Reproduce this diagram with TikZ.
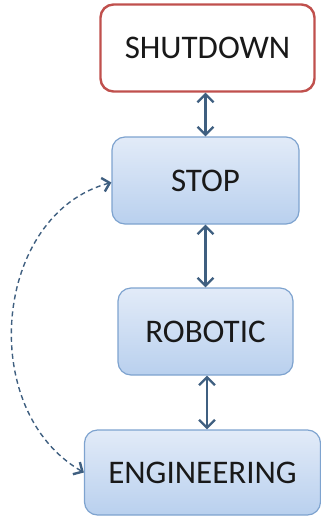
\documentclass[tikz,border=0pt]{standalone}
\usepackage{fontspec}
\setmainfont{Carlito}
\usetikzlibrary{arrows.meta}
\definecolor{redline}{HTML}{C0504D}
\definecolor{blueline}{HTML}{7EA3CF}
\definecolor{bluetop}{HTML}{E2EBF8}
\definecolor{bluebot}{HTML}{B9D0EE}
\definecolor{arrowcol}{HTML}{3F5F80}
\tikzset{
  state/.style={rounded corners=13pt, minimum height=87pt, align=center,
    font=\fontsize{33}{38}\selectfont, text=black!90},
  stopbox/.style={state, draw=redline, line width=2.4pt, fill=white},
  bluebox/.style={state, draw=blueline, line width=1.2pt,
    top color=bluetop, bottom color=bluebot},
  link/.style={draw=arrowcol, line width=2.3pt,
    {Straight Barb[length=8pt,width=16pt]}-{Straight Barb[length=8pt,width=16pt]}},
  jump/.style={draw=arrowcol, line width=1.4pt, dash pattern=on 5pt off 3.5pt,
    {Straight Barb[length=7pt,width=14pt,line width=2.4pt]}-{Straight Barb[length=7pt,width=14pt,line width=2.4pt]}}
}
\begin{document}
\begin{tikzpicture}[x=1pt,y=-1pt]
\useasboundingbox (0,0) rectangle (321,517);
\node[stopbox, minimum width=214pt, minimum height=87pt] (shutdown) at (207.5,48) {SHUTDOWN};
\node[bluebox, minimum width=187pt] (stop) at (205.5,180.5) {STOP};
\node[bluebox, minimum width=175pt] (robotic) at (205.5,331.5) {ROBOTIC};
\node[bluebox, minimum width=236pt, minimum height=85pt] (engineering) at (202.5,472.5) {ENGINEERING};
\draw[link] (stop.north |- shutdown.south) -- (stop.north);
\draw[link] (stop.south) -- (stop.south |- robotic.north);
\draw[link] ([xshift=1.5pt]robotic.south) -- ([xshift=1.5pt]robotic.south |- engineering.north);
\draw[jump] ([yshift=-2pt]stop.west) .. controls +(195:122pt) and +(150:125pt) .. (engineering.west);
\end{tikzpicture}
\end{document}
